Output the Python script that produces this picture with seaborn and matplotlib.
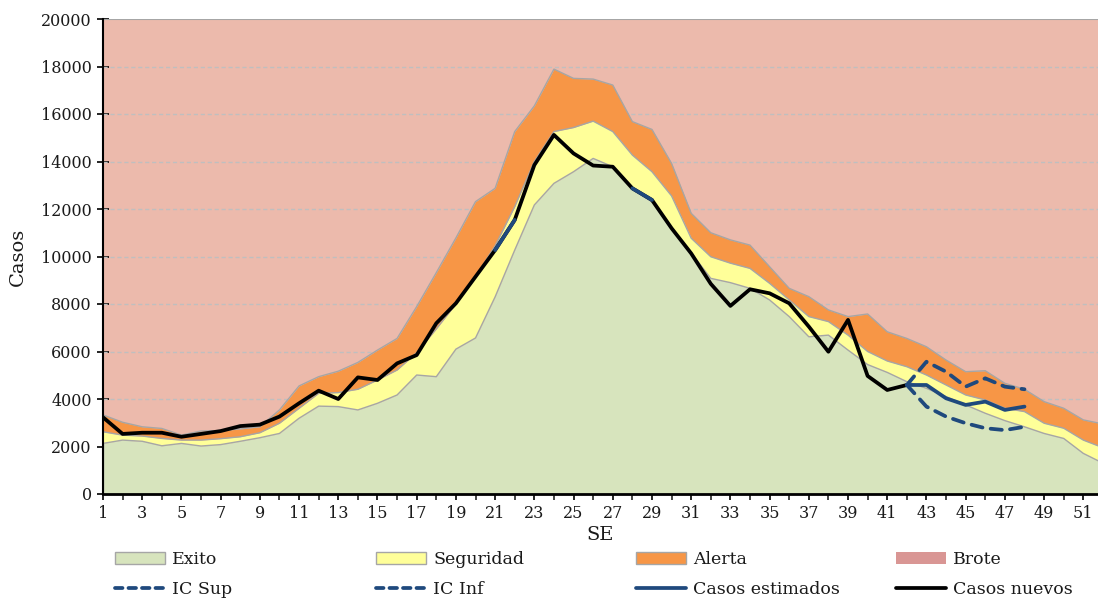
import numpy as np
import pandas as pd
import matplotlib
matplotlib.use("Agg")
import matplotlib.pyplot as plt
import seaborn as sns
from matplotlib.patches import Patch
from matplotlib.lines import Line2D

weeks = list(range(1, 53))

exito = [2130, 2270, 2220, 2030, 2130, 2020, 2080, 2220, 2370, 2550,
         3190, 3700, 3680, 3540, 3820, 4170, 5010, 4940, 6100, 6570,
         8300, 10270, 12170, 13080, 13570, 14130, 13780, 12850, 12300, 11150,
         10150, 9080, 8900, 8660, 8170, 7470, 6620, 6690, 6060, 5450,
         5120, 4730, 4450, 4100, 3750, 3400, 3090, 2830, 2550, 2340,
         1710, 1300]
seguridad = [2620, 2480, 2440, 2340, 2270, 2270, 2330, 2410, 2580, 2980,
             3610, 4240, 4270, 4410, 4800, 5220, 5950, 6950, 8000, 9150,
             10450, 12100, 14000, 15260, 15430, 15700, 15260, 14270, 13570, 12550,
             10770, 9990, 9720, 9500, 8870, 8170, 7470, 7260, 6690, 6000,
             5600, 5360, 5010, 4590, 4170, 3960, 3610, 3470, 2980, 2770,
             2270, 1950]
alerta = [3330, 3020, 2830, 2760, 2480, 2650, 2670, 2740, 2830, 3540,
          4550, 4940, 5170, 5540, 6060, 6550, 7890, 9320, 10780, 12310,
          12870, 15260, 16340, 17890, 17500, 17470, 17220, 15680, 15350, 13920,
          11820, 11000, 10700, 10480, 9570, 8660, 8310, 7750, 7470, 7580,
          6830, 6550, 6200, 5640, 5150, 5190, 4660, 4410, 3890, 3610,
          3120, 2950]
brote = [20000] * 52

nuevos_weeks = list(range(1, 43))
casos_nuevos = [3230, 2530, 2580, 2580, 2410, 2530, 2650, 2860, 2920, 3260,
                3820, 4350, 4000, 4910, 4800, 5500, 5850, 7190, 8030, 9150,
                10270, 11540, 13850, 15120, 14340, 13830, 13780, 12870, 12380, 11190,
                10130, 8850, 7920, 8620, 8450, 8030, 7050, 5990, 7330, 4970,
                4380, 4590]

est_weeks = [21, 22, 28, 29, 42, 43, 44, 45, 46, 47, 48]
est_segment = [1, 1, 2, 2, 3, 3, 3, 3, 3, 3, 3]
casos_estimados = [10270, 11540, 12870, 12380, 4590, 4590, 4030, 3750, 3890, 3540, 3680]

ic_weeks = [42, 43, 44, 45, 46, 47, 48]
ic_sup = [4590, 5570, 5150, 4520, 4870, 4520, 4410]
ic_inf = [4590, 3680, 3260, 2980, 2770, 2690, 2830]

xtick_labels = [str(w) for w in range(1, 52, 2)]

# colours
c_exito = "#D7E4BD"
c_seg = "#FFFF99"
c_alerta = "#F79646"
c_brote_area = "#ECBAAC"
c_brote_leg = "#D99694"
c_edge = "#A6A6A6"
c_blue = "#1F497D"

sns.set_theme(style="white")
plt.rcParams["font.family"] = ["DejaVu Serif"]

fig = plt.figure(figsize=(10.98, 6.02), dpi=100)
ax = fig.add_axes([103 / 1098, 1 - 494 / 602, 1 - 103 / 1098, (494 - 19) / 602])

w = np.array(weeks)
ax.fill_between(w, 0, brote, color=c_brote_area, lw=0, zorder=0)
ax.fill_between(w, alerta, seguridad, color=c_alerta, lw=0, zorder=2)
ax.fill_between(w, seguridad, exito, color=c_seg, lw=0, zorder=2)
ax.fill_between(w, exito, 0, color=c_exito, lw=0, zorder=2)
for top in (alerta, seguridad, exito):
    ax.plot(w, top, color=c_edge, lw=1.0, zorder=2.5)
ax.plot([1, 1], [0, exito[0]], color=c_edge, lw=1.0, zorder=2.5)
ax.axhline(20000, color=c_edge, lw=1.5, zorder=2.5)

# grid lines
for yv in range(2000, 20000, 2000):
    ax.axhline(yv, color="#BFBFBF", lw=1.0, ls=(0, (3, 2)), zorder=1)

df_new = pd.DataFrame({"SE": nuevos_weeks, "Casos": casos_nuevos})
sns.lineplot(data=df_new, x="SE", y="Casos", color="black", lw=2.7, ax=ax,
             zorder=5, legend=False)

df_est = pd.DataFrame({"SE": est_weeks, "Casos": casos_estimados, "seg": est_segment})
sns.lineplot(data=df_est, x="SE", y="Casos", units="seg", estimator=None,
             color=c_blue, lw=2.7, ax=ax, zorder=6, legend=False)

df_ic = pd.DataFrame({"SE": ic_weeks + ic_weeks,
                      "Casos": ic_sup + ic_inf,
                      "serie": ["IC Sup"] * 7 + ["IC Inf"] * 7})
sns.lineplot(data=df_ic, x="SE", y="Casos", units="serie", estimator=None,
             color=c_blue, lw=2.7, ax=ax, zorder=6, legend=False,
             dashes=False)
for ln in ax.lines[-2:]:
    ln.set_linestyle((0, (3.0, 2.2)))
    ln.set_dash_capstyle("round")

ax.set_xlim(1, 51.75)
ax.set_ylim(0, 20000)
ax.set_xticks(range(1, 52, 2))
ax.set_xticklabels(xtick_labels)
ax.set_xticks(range(1, 52), minor=True)
ax.set_yticks(range(0, 20001, 2000))
ax.set_yticklabels([str(v) for v in range(0, 20001, 2000)])
ax.tick_params(axis="both", labelsize=11.5, colors="black", pad=4,
               labelcolor="#1a1a1a")
ax.tick_params(axis="x", which="both", direction="inout", length=8, width=1.2,
               bottom=True)
ax.tick_params(axis="y", which="major", direction="inout", length=8, width=1.2,
               left=True)

for s in ("top", "right"):
    ax.spines[s].set_visible(False)
ax.spines["left"].set_color("black")
ax.spines["left"].set_linewidth(1.5)
ax.spines["bottom"].set_color("black")
ax.spines["bottom"].set_linewidth(2.0)
for s in ("left", "bottom"):
    ax.spines[s].set_zorder(7)

ax.set_xlabel("SE", fontsize=14, labelpad=3, color="#1a1a1a")
ax.set_ylabel("Casos", fontsize=14, labelpad=10, color="#1a1a1a")

# legend: four columns with two rows each
dash_h = dict(color=c_blue, lw=2.7, ls=(0, (2.0, 1.6)), dash_capstyle="round")
cols = [
    (115, [Patch(facecolor=c_exito, edgecolor=c_edge, lw=1.0),
           Line2D([], [], **dash_h)],
     ["Exito", "IC Sup"]),
    (376, [Patch(facecolor=c_seg, edgecolor=c_edge, lw=1.0),
           Line2D([], [], **dash_h)],
     ["Seguridad", "IC Inf"]),
    (636, [Patch(facecolor=c_alerta, edgecolor=c_edge, lw=1.0),
           Line2D([], [], color=c_blue, lw=2.7)],
     ["Alerta", "Casos estimados"]),
    (896, [Patch(facecolor=c_brote_leg, edgecolor="none"),
           Line2D([], [], color="black", lw=2.7)],
     ["Brote", "Casos nuevos"]),
]
for x0, handles, labels in cols:
    fig.legend(handles, labels, loc="upper left",
               bbox_to_anchor=(x0 / 1098, 1 - 551 / 602),
               frameon=False, fontsize=12.5, handlelength=2.9,
               handleheight=0.75, handletextpad=0.4, labelspacing=0.75,
               borderaxespad=0, borderpad=0, labelcolor="#1a1a1a")

fig.savefig("out.png", dpi=100)
